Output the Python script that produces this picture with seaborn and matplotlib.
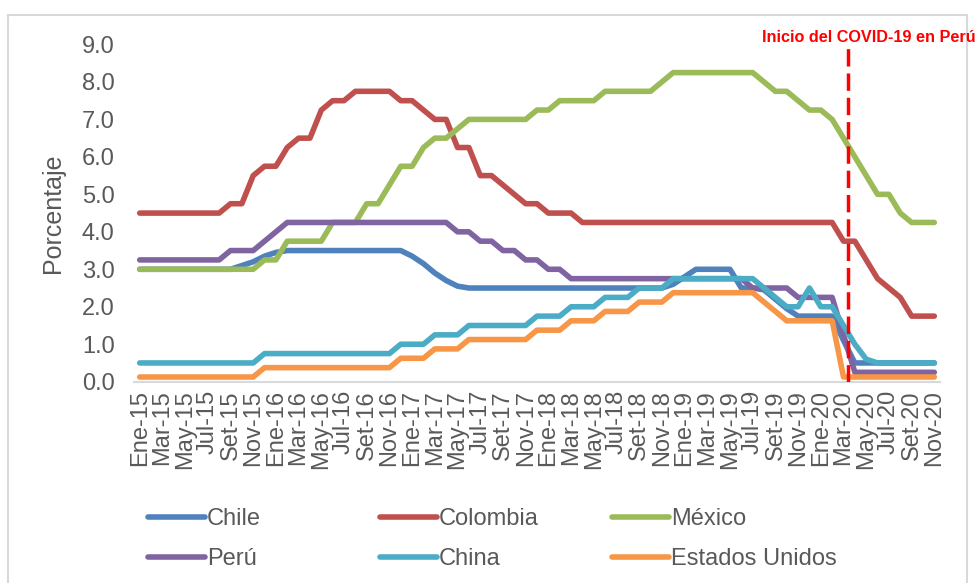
import pandas as pd
import matplotlib
matplotlib.use("Agg")
import matplotlib.pyplot as plt
from matplotlib.patches import Rectangle
import seaborn as sns

# --------------------------------------------
# datos (tasas de referencia, % mensual)
# --------------------------------------------
meses = ["Ene", "Feb", "Mar", "Abr", "May", "Jun", "Jul", "Ago", "Set", "Oct", "Nov", "Dic"]
periodos = [f"{m}-{a}" for a in range(15, 21) for m in meses][:71]

chile = [3.0, 3.0, 3.0, 3.0, 3.0, 3.0, 3.0, 3.0, 3.0, 3.1, 3.2, 3.35,
         3.45, 3.5, 3.5, 3.5, 3.5, 3.5, 3.5, 3.5, 3.5, 3.5, 3.5, 3.5,
         3.35, 3.15, 2.9, 2.7, 2.55, 2.5, 2.5, 2.5, 2.5, 2.5, 2.5, 2.5,
         2.5, 2.5, 2.5, 2.5, 2.5, 2.5, 2.5, 2.5, 2.5, 2.5, 2.5, 2.6,
         2.8, 3.0, 3.0, 3.0, 3.0, 2.5, 2.5, 2.45, 2.2, 1.95, 1.75, 1.75,
         1.75, 1.75, 1.1, 0.5, 0.5, 0.5, 0.5, 0.5, 0.5, 0.5, 0.5]
colombia = [4.5, 4.5, 4.5, 4.5, 4.5, 4.5, 4.5, 4.5, 4.75, 4.75, 5.5, 5.75,
            5.75, 6.25, 6.5, 6.5, 7.25, 7.5, 7.5, 7.75, 7.75, 7.75, 7.75, 7.5,
            7.5, 7.25, 7.0, 7.0, 6.25, 6.25, 5.5, 5.5, 5.25, 5.0, 4.75, 4.75,
            4.5, 4.5, 4.5, 4.25, 4.25, 4.25, 4.25, 4.25, 4.25, 4.25, 4.25, 4.25,
            4.25, 4.25, 4.25, 4.25, 4.25, 4.25, 4.25, 4.25, 4.25, 4.25, 4.25, 4.25,
            4.25, 4.25, 3.75, 3.75, 3.25, 2.75, 2.5, 2.25, 1.75, 1.75, 1.75]
mexico = [3.0, 3.0, 3.0, 3.0, 3.0, 3.0, 3.0, 3.0, 3.0, 3.0, 3.0, 3.25,
          3.25, 3.75, 3.75, 3.75, 3.75, 4.25, 4.25, 4.25, 4.75, 4.75, 5.25, 5.75,
          5.75, 6.25, 6.5, 6.5, 6.75, 7.0, 7.0, 7.0, 7.0, 7.0, 7.0, 7.25,
          7.25, 7.5, 7.5, 7.5, 7.5, 7.75, 7.75, 7.75, 7.75, 7.75, 8.0, 8.25,
          8.25, 8.25, 8.25, 8.25, 8.25, 8.25, 8.25, 8.0, 7.75, 7.75, 7.5, 7.25,
          7.25, 7.0, 6.5, 6.0, 5.5, 5.0, 5.0, 4.5, 4.25, 4.25, 4.25]
peru = [3.25, 3.25, 3.25, 3.25, 3.25, 3.25, 3.25, 3.25, 3.5, 3.5, 3.5, 3.75,
        4.0, 4.25, 4.25, 4.25, 4.25, 4.25, 4.25, 4.25, 4.25, 4.25, 4.25, 4.25,
        4.25, 4.25, 4.25, 4.25, 4.0, 4.0, 3.75, 3.75, 3.5, 3.5, 3.25, 3.25,
        3.0, 3.0, 2.75, 2.75, 2.75, 2.75, 2.75, 2.75, 2.75, 2.75, 2.75, 2.75,
        2.75, 2.75, 2.75, 2.75, 2.75, 2.75, 2.5, 2.5, 2.5, 2.5, 2.25, 2.25,
        2.25, 2.25, 1.25, 0.25, 0.25, 0.25, 0.25, 0.25, 0.25, 0.25, 0.25]
china = [0.5, 0.5, 0.5, 0.5, 0.5, 0.5, 0.5, 0.5, 0.5, 0.5, 0.5, 0.75,
         0.75, 0.75, 0.75, 0.75, 0.75, 0.75, 0.75, 0.75, 0.75, 0.75, 0.75, 1.0,
         1.0, 1.0, 1.25, 1.25, 1.25, 1.5, 1.5, 1.5, 1.5, 1.5, 1.5, 1.75,
         1.75, 1.75, 2.0, 2.0, 2.0, 2.25, 2.25, 2.25, 2.5, 2.5, 2.5, 2.75,
         2.75, 2.75, 2.75, 2.75, 2.75, 2.75, 2.75, 2.5, 2.25, 2.0, 2.0, 2.5,
         2.0, 2.0, 1.5, 1.0, 0.6, 0.5, 0.5, 0.5, 0.5, 0.5, 0.5]
eeuu = [0.125, 0.125, 0.125, 0.125, 0.125, 0.125, 0.125, 0.125, 0.125, 0.125, 0.125, 0.375,
        0.375, 0.375, 0.375, 0.375, 0.375, 0.375, 0.375, 0.375, 0.375, 0.375, 0.375, 0.625,
        0.625, 0.625, 0.875, 0.875, 0.875, 1.125, 1.125, 1.125, 1.125, 1.125, 1.125, 1.375,
        1.375, 1.375, 1.625, 1.625, 1.625, 1.875, 1.875, 1.875, 2.125, 2.125, 2.125, 2.375,
        2.375, 2.375, 2.375, 2.375, 2.375, 2.375, 2.375, 2.125, 1.875, 1.625, 1.625, 1.625,
        1.625, 1.625, 0.125, 0.125, 0.125, 0.125, 0.125, 0.125, 0.125, 0.125, 0.125]

paises = ["Chile", "Colombia", "México", "Perú", "China", "Estados Unidos"]
colores = ["#4F81BD", "#C0504D", "#9BBB59", "#8064A2", "#4BACC6", "#F79646"]
inicio_covid = 62.4  # entre Mar-20 y Abr-20

df = pd.DataFrame({"periodo": periodos, "Chile": chile, "Colombia": colombia,
                   "México": mexico, "Perú": peru, "China": china,
                   "Estados Unidos": eeuu})
df["idx"] = range(len(df))
largo = df.melt(id_vars=["idx", "periodo"], value_vars=paises,
                var_name="pais", value_name="tasa")

# --------------------------------------------
# figura
# --------------------------------------------
sns.set_theme(style="white")
plt.rcParams["font.family"] = ["Liberation Sans", "DejaVu Sans"]
gris = "#595959"

fig = plt.figure(figsize=(9.75, 5.83), dpi=100)
ax = fig.add_axes([134 / 975, 0.3453, 806 / 975, 0.9237 - 0.3453])

sns.lineplot(data=largo, x="idx", y="tasa", hue="pais", hue_order=paises,
             palette=colores, linewidth=4, sort=False, legend=False, ax=ax,
             solid_capstyle="round", solid_joinstyle="round")

ax.axvline(inicio_covid, color="#FF0000", lw=2.5, dashes=(5, 2), zorder=5)
fig.text(762 / 975, (583 - 42) / 583, "Inicio del COVID-19 en Perú",
         color="#FF0000", fontsize=11.7, fontweight="bold", ha="left", va="baseline")

ax.set_xlim(-0.5, len(periodos) - 0.5)
ax.set_ylim(0, 9)
ax.set_yticks([i * 1.0 for i in range(10)])
ax.set_yticklabels([f"{i:.1f}" for i in range(10)])
ax.set_xticks(df["idx"][::2])
ax.set_xticklabels(df["periodo"][::2], rotation=90)
ax.set_xticks([i - 0.5 for i in df["idx"][::2]], minor=True)
ax.tick_params(axis="x", which="major", length=0, pad=6, labelsize=17, labelcolor=gris)
ax.tick_params(axis="x", which="minor", length=5, width=1.2, color="#D9D9D9", direction="out")
ax.tick_params(axis="y", length=0, pad=14, labelsize=17, labelcolor=gris)
ax.set_xlabel("")
ax.set_ylabel("Porcentaje", fontsize=18, color=gris)
ax.yaxis.set_label_coords(-0.085, 0.5)

for lado in ["top", "right", "left"]:
    ax.spines[lado].set_visible(False)
ax.spines["bottom"].set_color("#D9D9D9")
ax.spines["bottom"].set_linewidth(1.5)

# leyenda en 3 columnas de igual ancho (como en Excel)
lineas = ax.get_lines()[:len(paises)]
for col, x0 in enumerate([148, 380, 612]):
    fig.legend([lineas[col], lineas[col + 3]], [paises[col], paises[col + 3]],
               loc="upper left", bbox_to_anchor=(x0 / 975, 0.128), frameon=False,
               fontsize=17, labelcolor=gris, handlelength=2.4, handletextpad=0.1,
               borderpad=0, borderaxespad=0, labelspacing=0.76)

# marco del area del grafico
fig.add_artist(Rectangle((8 / 975, -0.05), 959 / 975, (583 - 15) / 583 + 0.05,
                         transform=fig.transFigure, fill=False,
                         edgecolor="#D9D9D9", lw=1.5))

fig.savefig("out.png", dpi=100)
